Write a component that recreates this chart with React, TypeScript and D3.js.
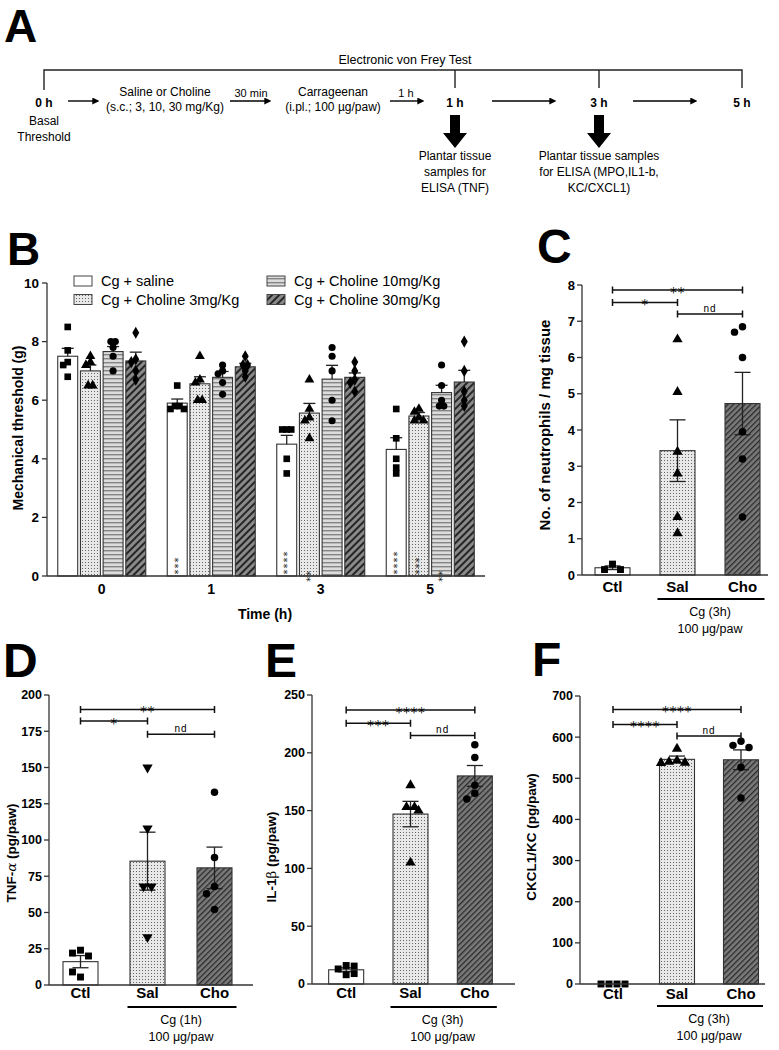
import React from 'react';
import * as d3 from 'd3';

const FONT = '"Liberation Sans", Arial, Helvetica, sans-serif';
const STAR_FONT = '"DejaVu Sans", sans-serif';

// ---------- panel B data ----------
const timeCats = ['0', '1', '3', '5'];
const bSeries = ['Cg + saline', 'Cg + Choline 3mg/Kg', 'Cg + Choline 10mg/Kg', 'Cg + Choline 30mg/Kg'];
const bMeanSaline = [7.5, 5.9, 4.5, 4.32];
const bMeanCho3 = [7.0, 6.56, 5.56, 5.46];
const bMeanCho10 = [7.66, 6.78, 6.72, 6.26];
const bMeanCho30 = [7.34, 7.14, 6.78, 6.62];
const bSemSaline = [0.27, 0.14, 0.3, 0.4];
const bSemCho3 = [0.2, 0.24, 0.33, 0.12];
const bSemCho10 = [0.17, 0.2, 0.47, 0.25];
const bSemCho30 = [0.3, 0.12, 0.15, 0.4];
const bPtsSaline = [[8.5, 7.7, 7.3, 7.2, 6.8], [6.5, 5.8, 5.8, 5.7, 5.7], [5.0, 5.0, 5.0, 4.0, 3.5], [5.7, 4.7, 4.0, 3.7, 3.5]];
const bPtsCho3 = [[7.5, 7.3, 7.2, 6.5, 6.5], [7.5, 6.7, 6.6, 6.0, 6.0], [6.7, 5.7, 5.4, 5.3, 4.7], [5.7, 5.6, 5.4, 5.3, 5.3]];
const bPtsCho10 = [[8.0, 8.0, 7.5, 7.8, 7.0], [7.2, 7.0, 6.9, 6.6, 6.2], [7.8, 7.5, 7.0, 6.0, 5.3], [7.2, 6.5, 6.0, 5.8, 5.8]];
const bPtsCho30 = [[8.3, 7.4, 7.3, 7.0, 6.7], [7.5, 7.2, 7.2, 7.0, 6.8], [7.3, 7.0, 6.7, 6.6, 6.3], [8.0, 7.0, 6.3, 6.0, 5.8]];
const bTicks = [0, 2, 4, 6, 8, 10];
// significance stars drawn vertically at the foot of a bar (start value in axis units)
const bStars = [
  { time: '1', series: 0, text: '***', start: 0.05 },
  { time: '3', series: 0, text: '****', start: 0.05 },
  { time: '3', series: 1, text: '**', start: -0.2 },
  { time: '5', series: 0, text: '****', start: 0.05 },
  { time: '5', series: 1, text: '***', start: 0.05 },
  { time: '5', series: 2, text: '**', start: -0.2 },
];

// ---------- panels C-F data ----------
const groupCats = ['Ctl', 'Sal', 'Cho'];

const cMeans = [0.2, 3.43, 4.73];
const cSems = [0.05, 0.85, 0.86];
const cCtl = [0.3, 0.15, 0.15];
const cSal = [6.5, 5.05, 3.4, 2.8, 1.6, 1.15];
const cCho = [6.85, 6.7, 6.0, 3.95, 3.2, 1.6];
const cTicks = [0, 1, 2, 3, 4, 5, 6, 7, 8];
const cBrackets = [
  { from: 'Ctl', to: 'Cho', y: 7.86, label: '**' },
  { from: 'Ctl', to: 'Sal', y: 7.52, label: '*' },
  { from: 'Sal', to: 'Cho', y: 7.2, label: 'nd' },
];

const dMeans = [16.1, 85.4, 80.8];
const dSems = [4.2, 20, 14.3];
const dCtl = [24, 22, 20, 5.5, 9];
const dSal = [150, 108, 68, 68, 33];
const dCho = [133, 88, 68, 63, 52];
const dTicks = [0, 25, 50, 75, 100, 125, 150, 175, 200];
const dBrackets = [
  { from: 'Ctl', to: 'Cho', y: 190, label: '**' },
  { from: 'Ctl', to: 'Sal', y: 182, label: '*' },
  { from: 'Sal', to: 'Cho', y: 173, label: 'nd' },
];

const eMeans = [12.3, 147, 180];
const eSems = [1.7, 11, 9];
const eCtl = [16, 13, 15.5, 8, 9];
const eSal = [172, 153, 153, 150, 105];
const eCho = [207, 196, 172, 165, 160];
const eTicks = [0, 50, 100, 150, 200, 250];
const eBrackets = [
  { from: 'Ctl', to: 'Cho', y: 237, label: '****' },
  { from: 'Ctl', to: 'Sal', y: 225.5, label: '***' },
  { from: 'Sal', to: 'Cho', y: 215, label: 'nd' },
];

const fMeans = [0, 546, 545];
const fSems = [0, 8, 24];
const fCtl = [0, 0, 0, 0];
const fSal = [572, 543, 540, 538, 537];
const fCho = [590, 580, 575, 527, 452];
const fTicks = [0, 100, 200, 300, 400, 500, 600, 700];
const fBrackets = [
  { from: 'Ctl', to: 'Cho', y: 667, label: '****' },
  { from: 'Ctl', to: 'Sal', y: 631, label: '****' },
  { from: 'Sal', to: 'Cho', y: 603, label: 'nd' },
];

const bFills = ['#ffffff', 'url(#dots)', 'url(#hlines)', 'url(#diag)'];
const bMarkers = ['square', 'triangle', 'circle', 'diamond'];

function symbolPath(kind: string, size: number) {
  const t =
    kind === 'square' ? d3.symbolSquare :
    kind === 'circle' ? d3.symbolCircle :
    kind === 'diamond' ? d3.symbolDiamond : d3.symbolTriangle;
  return d3.symbol().type(t).size(size)() as string;
}

// simple beeswarm so overlapping points spread sideways
function swarm(vals: number[], y: (v: number) => number, cx: number, step: number, minD: number) {
  const placed: { x: number; y: number }[] = [];
  vals.forEach((v) => {
    const py = y(v);
    for (let k = 0; k < 30; k++) {
      const off = k === 0 ? 0 : (k % 2 ? -1 : 1) * Math.ceil(k / 2) * step;
      const px = cx + off;
      if (!placed.some((p) => Math.abs(p.x - px) < minD && Math.abs(p.y - py) < minD)) {
        placed.push({ x: px, y: py });
        return;
      }
    }
    placed.push({ x: cx, y: py });
  });
  // recentre rows of points sharing the same value
  const rows = d3.group(placed, (p) => Math.round(p.y * 2) / 2);
  rows.forEach((row) => {
    if (row.length < 2) return;
    const shift = cx - d3.mean(row, (p) => p.x)!;
    row.forEach((p) => { p.x += shift; });
  });
  return placed;
}

function Marker({ kind, x, y, size }: { kind: string; x: number; y: number; size: number }) {
  if (kind === 'triangleDown') {
    return <path d={symbolPath('triangle', size)} transform={`translate(${x},${y}) rotate(180)`} fill="#000" />;
  }
  return <path d={symbolPath(kind, size)} transform={`translate(${x},${y})`} fill="#000" />;
}

function Letter({ x, y, t, size }: { x: number; y: number; t: string; size: number }) {
  return <text x={x} y={y} fontSize={size} fontWeight="bold">{t}</text>;
}

function PanelA() {
  const ay = 101;
  const arrows = [[68, 100], [230, 272], [390, 425], [492, 557], [633, 698]];
  const big = [455, 599];
  return (
    <g fontSize={12}>
      <Letter x={4} y={42} t="A" size={46} />
      <text x={405} y={64} textAnchor="middle" fontSize={12.5}>Electronic von Frey Test</text>
      <path d="M44,90V70H742V88M455,70V88M599,70V88" fill="none" stroke="#222" strokeWidth={1.4} />
      {arrows.map(([a, b], i) => (
        <line key={i} x1={a} x2={b - 7} y1={ay} y2={ay} stroke="#000" strokeWidth={1.4} markerEnd="url(#arrowHead)" />
      ))}
      <text x={44} y={107} textAnchor="middle" fontWeight="bold">0 h</text>
      <text x={44} y={125} textAnchor="middle">Basal</text>
      <text x={44} y={141} textAnchor="middle">Threshold</text>
      <text x={165} y={96} textAnchor="middle">Saline or Choline</text>
      <text x={165} y={111} textAnchor="middle">(s.c.; 3, 10, 30 mg/Kg)</text>
      <text x={251} y={97} textAnchor="middle" fontSize={11}>30 min</text>
      <text x={333} y={96} textAnchor="middle">Carrageenan</text>
      <text x={333} y={111} textAnchor="middle">(i.pl.; 100 µg/paw)</text>
      <text x={406} y={97} textAnchor="middle" fontSize={11}>1 h</text>
      <text x={455} y={107} textAnchor="middle" fontWeight="bold">1 h</text>
      <text x={599} y={107} textAnchor="middle" fontWeight="bold">3 h</text>
      <text x={742} y={107} textAnchor="middle" fontWeight="bold">5 h</text>
      {big.map((x) => (
        <path key={x} d={`M${x - 5},115H${x + 5}V133H${x + 12}L${x},148L${x - 12},133H${x - 5}Z`} fill="#000" />
      ))}
      <text x={455} y={160} textAnchor="middle">Plantar tissue</text>
      <text x={455} y={176} textAnchor="middle">samples for</text>
      <text x={455} y={192} textAnchor="middle">ELISA (TNF)</text>
      <text x={599} y={160} textAnchor="middle">Plantar tissue samples</text>
      <text x={599} y={176} textAnchor="middle">for ELISA (MPO,IL1-b,</text>
      <text x={599} y={192} textAnchor="middle">KC/CXCL1)</text>
    </g>
  );
}

function PanelB() {
  const axisX = 47;
  const y = d3.scaleLinear().domain([0, 10]).range([576, 283]);
  const x = d3.scaleBand<string>().domain(timeCats).range([47, 485]);
  const inner = d3.scaleBand<number>().domain([0, 1, 2, 3]).range([-44, 44]).paddingInner(0.12);
  const bw = inner.bandwidth();
  const means = [bMeanSaline, bMeanCho3, bMeanCho10, bMeanCho30];
  const sems = [bSemSaline, bSemCho3, bSemCho10, bSemCho30];
  const pts = [bPtsSaline, bPtsCho3, bPtsCho10, bPtsCho30];
  const cx = (t: string, s: number) => (x(t) as number) + x.bandwidth() / 2 + (inner(s) as number) + bw / 2;
  const sizes = [44, 42, 40, 42];
  return (
    <g>
      <Letter x={7} y={265} t="B" size={46} />
      {/* legend */}
      {bSeries.map((name, i) => {
        const col = Math.floor(i / 2);
        const row = i % 2;
        const lx = col === 0 ? 74 : 267;
        const ly = 276 + row * 18.5;
        return (
          <g key={name}>
            <rect x={lx} y={ly} width={18} height={10} fill={bFills[i]} stroke="#444" strokeWidth={1} />
            <text x={lx + 27} y={ly + 10} fontSize={14.5}>{name}</text>
          </g>
        );
      })}
      {/* bars */}
      {timeCats.map((t, ti) =>
        means.map((m, s) => {
          const left = cx(t, s) - bw / 2;
          return (
            <rect key={`${t}-${s}`} x={left} y={y(m[ti])} width={bw} height={y(0) - y(m[ti])}
              fill={bFills[s]} stroke="#333" strokeWidth={1.1} />
          );
        })
      )}
      {/* error bars (upper) */}
      {timeCats.map((t, ti) =>
        sems.map((e, s) => {
          const c = cx(t, s);
          const top = y(means[s][ti] + e[ti]);
          return (
            <g key={`e${t}-${s}`} stroke="#222" strokeWidth={1.3}>
              <line x1={c} x2={c} y1={y(means[s][ti])} y2={top} />
              <line x1={c - 6} x2={c + 6} y1={top} y2={top} />
            </g>
          );
        })
      )}
      {/* points */}
      {timeCats.map((t, ti) =>
        pts.map((p, s) =>
          swarm(p[ti], y, cx(t, s), 4.5, 4.5).map((q, k) => (
            <Marker key={`p${t}-${s}-${k}`} kind={bMarkers[s]} x={q.x} y={q.y} size={sizes[s]} />
          ))
        )
      )}
      {/* stars, written bottom-to-top */}
      {bStars.map((st, i) => {
        const c = cx(st.time, st.series);
        return (
          <text key={`s${i}`} transform={`translate(${c + 4.5},${y(st.start)}) rotate(-90)`}
            fontSize={10} fontFamily={STAR_FONT} letterSpacing={1} fill="#222">{st.text}</text>
        );
      })}
      {/* axes */}
      <line x1={axisX} x2={axisX} y1={y(0)} y2={y(10)} stroke="#333" strokeWidth={1.3} />
      <line x1={axisX} x2={485} y1={y(0)} y2={y(0)} stroke="#333" strokeWidth={1.3} />
      {bTicks.map((v) => (
        <g key={v}>
          <line x1={axisX - 5} x2={axisX} y1={y(v)} y2={y(v)} stroke="#333" strokeWidth={1.3} />
          <text x={axisX - 8} y={y(v)} dy="0.35em" textAnchor="end" fontSize={13.5} fontWeight="bold">{v}</text>
        </g>
      ))}
      {timeCats.map((t) => (
        <text key={t} x={(x(t) as number) + x.bandwidth() / 2} y={594} textAnchor="middle" fontSize={14} fontWeight="bold">{t}</text>
      ))}
      <text x={265} y={619} textAnchor="middle" fontSize={14} fontWeight="bold">Time (h)</text>
      <text transform="translate(23,428) rotate(-90)" textAnchor="middle" fontSize={14} fontWeight="bold">Mechanical threshold (g)</text>
    </g>
  );
}

type Bracket = { from: string; to: string; y: number; label: string };

interface DotBarProps {
  letter: string; letterX: number; letterY: number;
  axisX: number; axisEnd: number; yZero: number; yMaxPx: number; maxV: number;
  ticks: number[]; means: number[]; sems: number[];
  ctl: number[]; sal: number[]; cho: number[];
  salMarker: string; brackets: Bracket[];
  rangeX: [number, number]; catY: number;
  yLabel: React.ReactNode; yLabelX: number; yLabelY: number; yLabelSize: number;
  cgText: string; underY: number; tickSize: number;
}

function DotBarPanel(p: DotBarProps) {
  const y = d3.scaleLinear().domain([0, p.maxV]).range([p.yZero, p.yMaxPx]);
  const x = d3.scalePoint<string>().domain(groupCats).range(p.rangeX).padding(0.5);
  const bw = 35;
  const fills = ['#ffffff', 'url(#dots)', 'url(#diag2)'];
  const groups = [
    { pts: p.ctl, kind: 'square', size: 48 },
    { pts: p.sal, kind: p.salMarker, size: 46 },
    { pts: p.cho, kind: 'circle', size: 44 },
  ];
  const sal = x('Sal') as number;
  const cho = x('Cho') as number;
  return (
    <g>
      <Letter x={p.letterX} y={p.letterY} t={p.letter} size={48} />
      {groupCats.map((c, i) => (
        <rect key={c} x={(x(c) as number) - bw / 2} y={y(p.means[i])} width={bw}
          height={Math.max(0, y(0) - y(p.means[i]))} fill={fills[i]} stroke="#333" strokeWidth={1.1} />
      ))}
      {groupCats.map((c, i) => {
        const cx = x(c) as number;
        if (p.sems[i] <= 0) return null;
        const t = y(p.means[i] + p.sems[i]);
        const b = y(p.means[i] - p.sems[i]);
        return (
          <g key={`e${c}`} stroke="#222" strokeWidth={1.3}>
            <line x1={cx} x2={cx} y1={t} y2={b} />
            <line x1={cx - 8} x2={cx + 8} y1={t} y2={t} />
            <line x1={cx - 8} x2={cx + 8} y1={b} y2={b} />
          </g>
        );
      })}
      {groupCats.map((c, i) =>
        swarm(groups[i].pts, y, x(c) as number, 8, 7.5).map((q, k) => (
          <Marker key={`${c}${k}`} kind={groups[i].kind} x={q.x} y={q.y} size={groups[i].size} />
        ))
      )}
      {p.brackets.map((br, i) => {
        const x1 = x(br.from) as number;
        const x2 = x(br.to) as number;
        const yy = y(br.y);
        const nd = br.label === 'nd';
        return (
          <g key={i}>
            <path d={`M${x1},${yy - 3.5}V${yy + 3.5}M${x1},${yy}H${x2}M${x2},${yy - 3.5}V${yy + 3.5}`} stroke="#111" strokeWidth={1.5} fill="none" />
            {nd ? (
              <text x={(x1 + x2) / 2} y={yy - 2} textAnchor="middle" fontSize={10} letterSpacing={1}>{br.label}</text>
            ) : (
              <text x={(x1 + x2) / 2} y={yy + 6.5} textAnchor="middle" fontSize={14} fontFamily={STAR_FONT}
                letterSpacing={0.5}>{br.label}</text>
            )}
          </g>
        );
      })}
      <line x1={p.axisX} x2={p.axisX} y1={y(0)} y2={y(p.maxV)} stroke="#333" strokeWidth={1.3} />
      <line x1={p.axisX} x2={p.axisEnd} y1={y(0)} y2={y(0)} stroke="#333" strokeWidth={1.3} />
      {p.ticks.map((v) => (
        <g key={v}>
          <line x1={p.axisX - 5} x2={p.axisX} y1={y(v)} y2={y(v)} stroke="#333" strokeWidth={1.3} />
          <text x={p.axisX - 7} y={y(v)} dy="0.35em" textAnchor="end" fontSize={p.tickSize} fontWeight="bold">{v}</text>
        </g>
      ))}
      {groupCats.map((c) => (
        <text key={c} x={x(c) as number} y={p.catY} textAnchor="middle" fontSize={15} fontWeight="bold">{c}</text>
      ))}
      <line x1={sal - 20} x2={cho + 22} y1={p.underY} y2={p.underY} stroke="#000" strokeWidth={2} />
      <text x={(sal + cho) / 2} y={p.underY + 17} textAnchor="middle" fontSize={12.5}>{p.cgText}</text>
      <text x={(sal + cho) / 2} y={p.underY + 34} textAnchor="middle" fontSize={12.5}>100 μg/paw</text>
      <text transform={`translate(${p.yLabelX},${p.yLabelY}) rotate(-90)`} textAnchor="middle" fontSize={p.yLabelSize} fontWeight="bold">{p.yLabel}</text>
    </g>
  );
}

export default function App() {
  return (
    <svg width={779} height={1050} style={{ position: 'absolute', left: 0, top: 0, background: '#fff' }} fontFamily={FONT}>
      <defs>
        <pattern id="dots" width="3" height="3" patternUnits="userSpaceOnUse">
          <rect width="3" height="3" fill="#e8e8e8" />
          <rect x="1" y="1" width="1" height="1" fill="#666" />
        </pattern>
        <pattern id="hlines" width="4" height="4" patternUnits="userSpaceOnUse">
          <rect width="4" height="4" fill="#dcdcdc" />
          <rect y="2" width="4" height="1.4" fill="#858585" />
        </pattern>
        <pattern id="diag" width="5" height="5" patternUnits="userSpaceOnUse" patternTransform="rotate(45)">
          <rect width="5" height="5" fill="#8a8a8a" />
          <rect width="2" height="5" fill="#262626" />
        </pattern>
        <pattern id="diag2" width="4" height="4" patternUnits="userSpaceOnUse" patternTransform="rotate(45)">
          <rect width="4" height="4" fill="#7a7a7a" />
          <rect width="1.3" height="4" fill="#2a2a2a" />
        </pattern>
        <marker id="arrowHead" viewBox="0 0 10 10" refX="1" refY="5" markerWidth="5" markerHeight="5" orient="auto">
          <path d="M0,0L10,5L0,10Z" fill="#000" />
        </marker>
      </defs>
      <PanelA />
      <PanelB />
      <DotBarPanel letter="C" letterX={537} letterY={263}
        axisX={582} axisEnd={768} yZero={575} yMaxPx={285} maxV={8}
        ticks={cTicks} means={cMeans} sems={cSems} ctl={cCtl} sal={cSal} cho={cCho}
        salMarker="triangle" brackets={cBrackets} rangeX={[580, 775]} catY={592}
        yLabel="No. of neutrophils / mg tissue" yLabelX={550} yLabelY={425} yLabelSize={15}
        cgText="Cg (3h)" underY={599} tickSize={13} />
      <DotBarPanel letter="D" letterX={3} letterY={677}
        axisX={49} axisEnd={253} yZero={985} yMaxPx={695} maxV={200}
        ticks={dTicks} means={dMeans} sems={dSems} ctl={dCtl} sal={dSal} cho={dCho}
        salMarker="triangleDown" brackets={dBrackets} rangeX={[47, 248]} catY={998}
        yLabel={<>TNF-<tspan fontStyle="italic" fontWeight="normal" fontFamily="DejaVu Serif">α</tspan> (pg/paw)</>}
        yLabelX={16} yLabelY={853} yLabelSize={13.5}
        cgText="Cg (1h)" underY={1007} tickSize={12.5} />
      <DotBarPanel letter="E" letterX={265} letterY={677}
        axisX={312} axisEnd={515} yZero={984} yMaxPx={695} maxV={250}
        ticks={eTicks} means={eMeans} sems={eSems} ctl={eCtl} sal={eSal} cho={eCho}
        salMarker="triangle" brackets={eBrackets} rangeX={[314, 507]} catY={998}
        yLabel={<>IL-1<tspan fontWeight="normal" fontFamily="DejaVu Serif">β</tspan> (pg/paw)</>}
        yLabelX={276} yLabelY={857} yLabelSize={13.5}
        cgText="Cg (3h)" underY={1007} tickSize={12.5} />
      <DotBarPanel letter="F" letterX={532} letterY={676}
        axisX={580} axisEnd={765} yZero={984} yMaxPx={696} maxV={700}
        ticks={fTicks} means={fMeans} sems={fSems} ctl={fCtl} sal={fSal} cho={fCho}
        salMarker="triangle" brackets={fBrackets} rangeX={[581, 773]} catY={999}
        yLabel="CKCL1/KC (pg/paw)" yLabelX={536} yLabelY={837} yLabelSize={13.5}
        cgText="Cg (3h)" underY={1006} tickSize={12.5} />
    </svg>
  );
}
